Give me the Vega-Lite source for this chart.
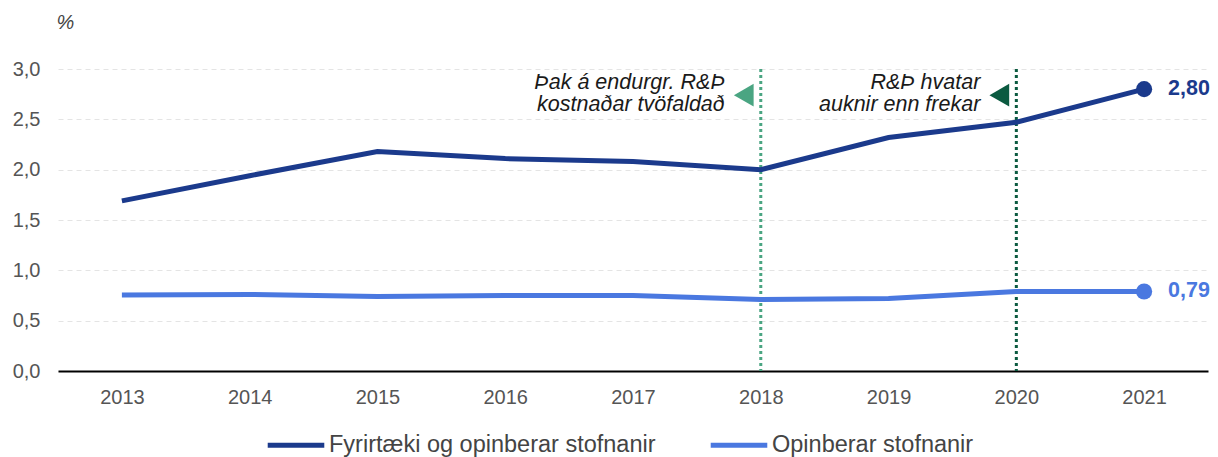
{
  "$schema": "https://vega.github.io/schema/vega-lite/v6.json",
  "autosize": {"type": "none"},
  "width": 1150,
  "height": 302,
  "padding": {"left": 58, "top": 69, "right": 10, "bottom": 86},
  "background": "white",
  "config": {
    "font": "Liberation Sans",
    "view": {"stroke": null},
    "locale": {"number": {"decimal": ",", "thousands": ".", "grouping": [3], "currency": ["", " kr."]}}
  },
  "datasets": {
    "series": [
      {"year": "2013", "series": "Fyrirtæki og opinberar stofnanir", "value": 1.69},
      {"year": "2014", "series": "Fyrirtæki og opinberar stofnanir", "value": 1.94},
      {"year": "2015", "series": "Fyrirtæki og opinberar stofnanir", "value": 2.18},
      {"year": "2016", "series": "Fyrirtæki og opinberar stofnanir", "value": 2.11},
      {"year": "2017", "series": "Fyrirtæki og opinberar stofnanir", "value": 2.08},
      {"year": "2018", "series": "Fyrirtæki og opinberar stofnanir", "value": 2.00},
      {"year": "2019", "series": "Fyrirtæki og opinberar stofnanir", "value": 2.32},
      {"year": "2020", "series": "Fyrirtæki og opinberar stofnanir", "value": 2.47},
      {"year": "2021", "series": "Fyrirtæki og opinberar stofnanir", "value": 2.80},
      {"year": "2013", "series": "Opinberar stofnanir", "value": 0.755},
      {"year": "2014", "series": "Opinberar stofnanir", "value": 0.76},
      {"year": "2015", "series": "Opinberar stofnanir", "value": 0.74},
      {"year": "2016", "series": "Opinberar stofnanir", "value": 0.75},
      {"year": "2017", "series": "Opinberar stofnanir", "value": 0.75},
      {"year": "2018", "series": "Opinberar stofnanir", "value": 0.71},
      {"year": "2019", "series": "Opinberar stofnanir", "value": 0.72},
      {"year": "2020", "series": "Opinberar stofnanir", "value": 0.79},
      {"year": "2021", "series": "Opinberar stofnanir", "value": 0.79}
    ],
    "events": [
      {"year": "2018", "kind": "a", "y": 2.74},
      {"year": "2020", "kind": "b", "y": 2.74}
    ],
    "notes": [
      {"year": "2018", "y": 2.86, "text": "Þak á endurgr. R&Þ"},
      {"year": "2018", "y": 2.64, "text": "kostnaðar tvöfaldað"},
      {"year": "2020", "y": 2.86, "text": "R&Þ hvatar"},
      {"year": "2020", "y": 2.64, "text": "auknir enn frekar"}
    ]
  },
  "encoding": {
    "x": {
      "field": "year", "type": "ordinal",
      "scale": {"type": "point", "padding": 0.5, "domain": ["2013", "2014", "2015", "2016", "2017", "2018", "2019", "2020", "2021"]},
      "axis": {"title": null, "ticks": false, "labelAngle": 0, "labelFontSize": 20, "labelColor": "#555555", "labelPadding": 16, "domainColor": "#000000", "domainWidth": 2, "grid": false}
    }
  },
  "layer": [
    {
      "data": {"name": "events"},
      "mark": {"type": "rule", "strokeDash": [3, 3], "strokeWidth": 3},
      "encoding": {
        "stroke": {"field": "kind", "type": "nominal", "scale": {"domain": ["a", "b"], "range": ["#4aa582", "#0b5a40"]}, "legend": null}
      }
    },
    {
      "data": {"name": "events"},
      "mark": {"type": "point", "shape": "triangle-left", "filled": true, "size": 520, "opacity": 1, "xOffset": -17},
      "encoding": {
        "y": {"field": "y", "type": "quantitative"},
        "fill": {"field": "kind", "type": "nominal", "scale": {"domain": ["a", "b"], "range": ["#4aa582", "#0b5a40"]}, "legend": null}
      }
    },
    {
      "data": {"name": "notes"},
      "mark": {"type": "text", "align": "right", "baseline": "middle", "dx": -36, "fontSize": 21.5, "fontStyle": "italic", "color": "#1a1a1a", "font": "Liberation Sans"},
      "encoding": {
        "y": {"field": "y", "type": "quantitative"},
        "text": {"field": "text"}
      }
    },
    {
      "data": {"name": "series"},
      "mark": {"type": "line", "strokeWidth": 5},
      "encoding": {
        "y": {
          "field": "value", "type": "quantitative",
          "scale": {"domain": [0, 3]},
          "axis": {
            "title": "%", "titleAngle": 0, "titleX": -2, "titleY": -47, "titleAlign": "left", "titleBaseline": "middle",
            "titleFontSize": 20, "titleFontStyle": "italic", "titleFontWeight": "normal", "titleColor": "#444444",
            "values": [0, 0.5, 1, 1.5, 2, 2.5, 3],
            "labelExpr": "replace(format(datum.value, '.1f'), '.', ',')",
            "labelFontSize": 20, "labelColor": "#555555", "labelPadding": 18,
            "ticks": false, "domain": false,
            "grid": true, "gridColor": "#e4e4e4", "gridDash": [5, 4], "gridWidth": 1
          }
        },
        "color": {
          "field": "series", "type": "nominal",
          "scale": {"domain": ["Fyrirtæki og opinberar stofnanir", "Opinberar stofnanir"], "range": ["#1b3a8c", "#4a78e0"]},
          "legend": {
            "title": null, "orient": "none", "legendX": 207, "legendY": 345, "direction": "horizontal",
            "symbolType": "stroke", "symbolStrokeWidth": 5, "symbolSize": 3200,
            "labelFontSize": 23.5, "labelColor": "#444444", "labelOffset": 2, "labelLimit": 600, "columnPadding": 44
          }
        }
      }
    },
    {
      "data": {"name": "series"},
      "transform": [{"filter": "datum.year == '2021'"}],
      "mark": {"type": "circle", "size": 260, "opacity": 1},
      "encoding": {
        "y": {"field": "value", "type": "quantitative"},
        "color": {"field": "series", "type": "nominal"}
      }
    },
    {
      "data": {"name": "series"},
      "transform": [{"filter": "datum.year == '2021'"}],
      "mark": {"type": "text", "align": "left", "baseline": "middle", "dx": 24, "fontSize": 21.5, "fontWeight": "bold"},
      "encoding": {
        "y": {"field": "value", "type": "quantitative"},
        "text": {"field": "value", "type": "quantitative", "format": ".2f"},
        "color": {"field": "series", "type": "nominal"}
      }
    }
  ]
}
